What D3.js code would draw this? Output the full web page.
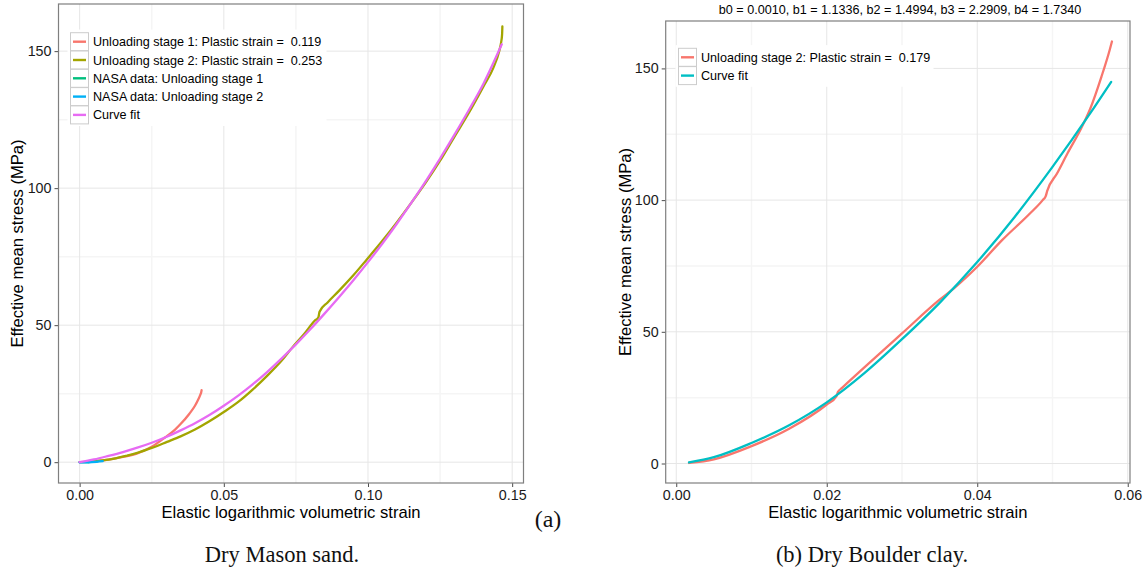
<!DOCTYPE html>
<html>
<head>
<meta charset="utf-8">
<script src="https://cdn.jsdelivr.net/npm/d3@7"></script>
<style>
  html, body { margin: 0; padding: 0; background: #ffffff; }
  svg { display: block; font-family: "Liberation Sans", Arial, sans-serif; }
</style>
</head>
<body>
<svg id="chart" width="1147" height="574"></svg>
<script>
// ---------------- DATA ----------------
// Panel (a): Dry Mason sand — [elastic log volumetric strain, effective mean stress (MPa)]
const masonStage1 = [[0,0],[0.005,0.3],[0.01,0.9],[0.015,1.9],[0.02,3.2],[0.025,5.6],[0.0296,9.0],[0.033,11.8],[0.035,13.9],[0.038,17.6],[0.040,20.6],[0.041,22.6],[0.0418,24.5],[0.0422,25.7],[0.0423,26.3]];
const masonStage2 = [[0.003,0],[0.006,0.5],[0.01,0.9],[0.0165,2.4],[0.02,3.4],[0.025,5.2],[0.0303,7.4],[0.035,9.4],[0.04,11.9],[0.045,14.9],[0.05,18.3],[0.055,22.0],[0.06,26.5],[0.065,31.5],[0.07,37.0],[0.0737,41.8],[0.078,47.0],[0.0815,51.6],[0.0828,52.9],[0.0832,54.9],[0.086,58.3],[0.09,62.6],[0.095,68.3],[0.0996,74.0],[0.105,80.8],[0.11,87.5],[0.115,94.6],[0.12,102.0],[0.125,110.0],[0.13,118.8],[0.135,127.5],[0.14,137.0],[0.1435,144.0],[0.1455,150.0],[0.1462,153.4],[0.1465,156.0],[0.1466,159.0]];
const masonNasa1 = [[0,0],[0.002,0.05],[0.004,0.15]];
const masonNasa2 = [[0,-0.1],[0.003,-0.05],[0.006,0.15],[0.008,0.35]];
const masonFit = [[0,0],[0.005,1.0],[0.01,2.3],[0.015,3.7],[0.02,5.3],[0.025,7.1],[0.03,9.2],[0.035,11.6],[0.04,14.2],[0.045,17.2],[0.05,20.6],[0.055,24.3],[0.06,28.4],[0.065,32.9],[0.07,37.8],[0.075,43.0],[0.08,48.5],[0.085,54.3],[0.09,60.3],[0.095,66.5],[0.10,73.0],[0.105,79.8],[0.11,87.0],[0.115,94.6],[0.12,102.5],[0.125,110.8],[0.13,119.5],[0.135,128.5],[0.14,138.0],[0.1464,152.5]];

// Panel (b): Dry Boulder clay
const boulderStage2 = [[0.0017,0.2],[0.005,1.6],[0.01,6.6],[0.015,13.2],[0.02,22.4],[0.0213,25.6],[0.0215,27.2],[0.022,28.6],[0.025,36.5],[0.03,49.4],[0.035,62.2],[0.0369,66.5],[0.04,74.7],[0.0433,84.8],[0.047,94.9],[0.0487,100.0],[0.0491,101.5],[0.0493,103.5],[0.0506,110.1],[0.052,117.8],[0.0538,127.2],[0.055,134.6],[0.0565,146.8],[0.0576,157.0],[0.0579,160.2]];
const boulderFit = [[0.0017,0.4],[0.005,2.4],[0.01,7.8],[0.015,14.5],[0.02,23.2],[0.025,34.3],[0.03,47.2],[0.035,61.0],[0.04,76.5],[0.045,93.7],[0.05,112.6],[0.055,132.9],[0.0578,144.9]];

// Tick values
const masonXTicks = [0, 0.05, 0.10, 0.15];
const masonXMinor = [0.025, 0.075, 0.125];
const masonYTicks = [0, 50, 100, 150];
const masonYMinor = [25, 75, 125];
const boulderXTicks = [0, 0.02, 0.04, 0.06];
const boulderXMinor = [0.01, 0.03, 0.05];
const boulderYTicks = [0, 50, 100, 150];
const boulderYMinor = [25, 75, 125];

// Legend labels
const masonLabels = ["Unloading stage 1: Plastic strain =  0.119", "Unloading stage 2: Plastic strain =  0.253", "NASA data: Unloading stage 1", "NASA data: Unloading stage 2", "Curve fit"];
const boulderLabels = ["Unloading stage 2: Plastic strain =  0.179", "Curve fit"];

const fitParams = "b0 = 0.0010, b1 = 1.1336, b2 = 1.4994, b3 = 2.2909, b4 = 1.7340";
const xTitle = "Elastic logarithmic volumetric strain";
const yTitle = "Effective mean stress (MPa)";

// ---------------- DRAWING ----------------
const svg = d3.select("#chart");
svg.append("rect").attr("width", 1147).attr("height", 574).attr("fill", "#fff");

function drawPanel(cfg) {
  const g = svg.append("g");
  const x = d3.scaleLinear().domain(cfg.xDomain).range(cfg.xRange);
  const y = d3.scaleLinear().domain(cfg.yDomain).range(cfg.yRange);
  const [x0, x1] = cfg.xRange, [y1, y0] = cfg.yRange;

  g.append("rect").attr("x", x0).attr("y", y0).attr("width", x1 - x0).attr("height", y1 - y0).attr("fill", "#fff");

  // minor grid
  g.selectAll(".mx").data(cfg.xMinor).enter().append("line")
    .attr("x1", d => x(d)).attr("x2", d => x(d)).attr("y1", y0).attr("y2", y1)
    .attr("stroke", "#f5f5f5").attr("stroke-width", 1.5);
  g.selectAll(".my").data(cfg.yMinor).enter().append("line")
    .attr("y1", d => y(d)).attr("y2", d => y(d)).attr("x1", x0).attr("x2", x1)
    .attr("stroke", "#f5f5f5").attr("stroke-width", 1.5);
  // major grid
  g.selectAll(".gx").data(cfg.xTicks).enter().append("line")
    .attr("x1", d => x(d)).attr("x2", d => x(d)).attr("y1", y0).attr("y2", y1)
    .attr("stroke", "#e6e6e6").attr("stroke-width", 1);
  g.selectAll(".gy").data(cfg.yTicks).enter().append("line")
    .attr("y1", d => y(d)).attr("y2", d => y(d)).attr("x1", x0).attr("x2", x1)
    .attr("stroke", "#e6e6e6").attr("stroke-width", 1);

  // lines
  const clipId = "clip" + cfg.id;
  svg.append("clipPath").attr("id", clipId).append("rect")
    .attr("x", x0).attr("y", y0).attr("width", x1 - x0).attr("height", y1 - y0);
  const line = d3.line().x(d => x(d[0])).y(d => y(d[1])).curve(d3.curveMonotoneX);
  const lg = g.append("g").attr("clip-path", `url(#${clipId})`);
  cfg.series.forEach(s => {
    lg.append("path").datum(s.data).attr("d", line)
      .attr("fill", "none").attr("stroke", s.color).attr("stroke-width", 2.3)
      .attr("stroke-linejoin", "round").attr("stroke-linecap", "round");
  });

  // axes
  const xAxis = d3.axisBottom(x).tickValues(cfg.xTicks).tickFormat(cfg.xFormat).tickSize(4).tickPadding(3);
  const yAxis = d3.axisLeft(y).tickValues(cfg.yTicks).tickFormat(d3.format("d")).tickSize(4).tickPadding(3);
  const gx = g.append("g").attr("transform", `translate(0,${y1})`).call(xAxis);
  const gy = g.append("g").attr("transform", `translate(${x0},0)`).call(yAxis);
  [gx, gy].forEach(a => {
    a.select(".domain").remove();
    a.selectAll(".tick line").attr("stroke", "#4d4d4d").attr("stroke-width", 1);
    a.selectAll(".tick text").attr("fill", "#1a1a1a").style("font-size", "14.3px")
      .style("font-family", "Liberation Sans, Arial, sans-serif");
  });

  // panel border
  g.append("rect").attr("x", x0).attr("y", y0).attr("width", x1 - x0).attr("height", y1 - y0)
    .attr("fill", "none").attr("stroke", "#7f7f7f").attr("stroke-width", 1.2);

  // axis titles
  g.append("text").attr("x", (x0 + x1) / 2).attr("y", 517.5).attr("text-anchor", "middle")
    .style("font-size", "16.6px").attr("fill", "#000").text(xTitle);
  g.append("text").attr("transform", `translate(${cfg.yTitleX},${(y0 + y1) / 2}) rotate(-90)`)
    .attr("text-anchor", "middle").style("font-size", "16.6px").attr("fill", "#000").text(yTitle);

  // legend
  const L = cfg.legend;
  const rowH = 18.3;
  const leg = g.append("g");
  leg.append("rect").attr("x", L.x - 3).attr("y", L.y - rowH / 2 - 3)
    .attr("width", L.w).attr("height", rowH * cfg.series.length + 5).attr("fill", "#fff");
  cfg.series.forEach((s, i) => {
    const cy = L.y + i * rowH;
    leg.append("rect").attr("x", L.x).attr("y", cy - 9).attr("width", 18).attr("height", 18)
      .attr("fill", "#fff").attr("stroke", "#cccccc").attr("stroke-width", 1);
    leg.append("line").attr("x1", L.x + 2.5).attr("x2", L.x + 15.5).attr("y1", cy).attr("y2", cy)
      .attr("stroke", s.color).attr("stroke-width", 2.4);
    leg.append("text").attr("x", L.x + 22.5).attr("y", cy).attr("dy", "0.36em")
      .attr("xml:space", "preserve").style("white-space", "pre")
      .style("font-size", "12.6px").attr("fill", "#000").text(s.label);
  });
}

const colA = ["#F8766D", "#A3A500", "#00BF7D", "#00B0F6", "#E76BF3"];
const dataA = [masonStage1, masonStage2, masonNasa1, masonNasa2, masonFit];
drawPanel({
  id: "a",
  xDomain: [-0.00733, 0.15393], xRange: [58.5, 523.5],
  yDomain: [-7.6, 167.2], yRange: [483, 4],
  xTicks: masonXTicks, xMinor: masonXMinor, yTicks: masonYTicks, yMinor: masonYMinor,
  xFormat: d3.format(".2f"),
  yTitleX: 23,
  series: dataA.map((d, i) => ({ data: d, color: colA[i], label: masonLabels[i] })),
  legend: { x: 70.5, y: 41.7, w: 259 }
});

const colB = ["#F8766D", "#00BFC4"];
const dataB = [boulderStage2, boulderFit];
drawPanel({
  id: "b",
  xDomain: [-0.0014, 0.0603], xRange: [665.7, 1130],
  yDomain: [-7.4, 168], yRange: [483, 21],
  xTicks: boulderXTicks, xMinor: boulderXMinor, yTicks: boulderYTicks, yMinor: boulderYMinor,
  xFormat: d3.format(".2f"),
  yTitleX: 631,
  series: dataB.map((d, i) => ({ data: d, color: colB[i], label: boulderLabels[i] })),
  legend: { x: 678.5, y: 57.3, w: 258 }
});

// fit parameter title (panel b)
svg.append("text").attr("x", 900).attr("y", 13.5).attr("text-anchor", "middle")
  .style("font-size", "12.6px").attr("fill", "#000").text(fitParams);

// captions (serif)
svg.append("text").attr("x", 548).attr("y", 527).attr("text-anchor", "middle")
  .style("font-family", "Liberation Serif, Times New Roman, serif").style("font-size", "24px").attr("fill", "#111").text("(a)");
svg.append("text").attr("x", 282).attr("y", 562).attr("text-anchor", "middle")
  .style("font-family", "Liberation Serif, Times New Roman, serif").style("font-size", "22.5px").attr("fill", "#111").text("Dry Mason sand.");
svg.append("text").attr("x", 872).attr("y", 562).attr("text-anchor", "middle")
  .style("font-family", "Liberation Serif, Times New Roman, serif").style("font-size", "22.5px").attr("fill", "#111").text("(b) Dry Boulder clay.");
</script>
</body>
</html>
